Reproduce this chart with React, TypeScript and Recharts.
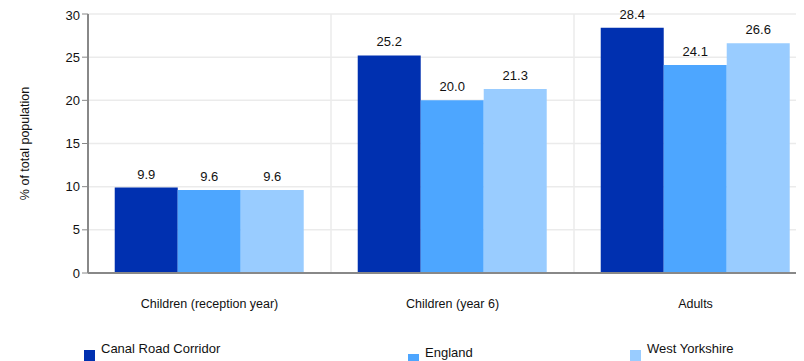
import React from "react";
import {
  BarChart,
  Bar,
  XAxis,
  YAxis,
  CartesianGrid,
  LabelList,
} from "recharts";

const categories = ["Children (reception year)", "Children (year 6)", "Adults"];
const canalRoad = [9.9, 25.2, 28.4];
const england = [9.6, 20.0, 24.1];
const westYorkshire = [9.6, 21.3, 26.6];
const yTicks = [0, 5, 10, 15, 20, 25, 30];

const series = [
  { key: "canal", name: "Canal Road Corridor", color: "#0030B0", values: canalRoad },
  { key: "england", name: "England", color: "#4DA6FF", values: england },
  { key: "wy", name: "West Yorkshire", color: "#99CCFF", values: westYorkshire },
];

const chartData = categories.map((c, i) => {
  const row: Record<string, string | number> = { category: c };
  series.forEach((s) => {
    row[s.key] = s.values[i];
  });
  return row;
});

// legend spots as seen in the picture
const legendPos = [
  { left: 76, top: 333 },
  { left: 400, top: 337 },
  { left: 622, top: 333 },
];

const font = "Arial, 'Liberation Sans', sans-serif";

const App: React.FC = () => {
  return (
    <div
      style={{
        position: "relative",
        width: 796,
        height: 353,
        overflow: "hidden",
        fontFamily: font,
      }}
    >
      <BarChart
        width={812}
        height={360}
        data={chartData}
        margin={{ top: 6, right: 3, left: 0, bottom: 65 }}
        barCategoryGap="11%"
        barGap={0}
      >
        <CartesianGrid
          stroke="#ebebeb"
          strokeWidth={1.5}
          verticalCoordinatesGenerator={({ offset }: any) =>
            categories.map((_, i) => offset.left + (offset.width * i) / categories.length).slice(1)
          }
        />
        <XAxis
          dataKey="category"
          tickLine={false}
          tickMargin={20}
          axisLine={{ stroke: "#888", strokeWidth: 2 }}
          tick={{ fill: "#111", fontSize: 12.5, fontFamily: font }}
          interval={0}
        />
        <YAxis
          width={80}
          domain={[0, 30]}
          ticks={yTicks}
          tickSize={6}
          tickMargin={2}
          axisLine={{ stroke: "#888", strokeWidth: 2 }}
          tickLine={{ stroke: "#888" }}
          tick={{ fill: "#111", fontSize: 13, fontFamily: font }}
          label={{
            value: "% of total population",
            angle: -90,
            position: "insideLeft",
            dx: 12,
            style: { fill: "#111", fontSize: 12.5, fontFamily: font, textAnchor: "middle" },
          }}
        />
        {series.map((s) => (
          <Bar key={s.key} dataKey={s.key} name={s.name} fill={s.color} isAnimationActive={false}>
            <LabelList
              dataKey={s.key}
              position="top"
              offset={9}
              formatter={(v: any) => Number(v).toFixed(1)}
              style={{ fill: "#111", fontSize: 13, fontFamily: font }}
            />
          </Bar>
        ))}
      </BarChart>
      {series.map((s, i) => (
        <div
          key={s.key}
          style={{
            position: "absolute",
            left: legendPos[i].left,
            top: legendPos[i].top,
            display: "flex",
            alignItems: "flex-start",
            fontSize: 13,
            color: "#111",
          }}
        >
          <span
            style={{
              display: "inline-block",
              width: 11,
              height: 12,
              background: s.color,
              marginTop: 9,
              marginRight: 6,
            }}
          />
          <span>{s.name}</span>
        </div>
      ))}
    </div>
  );
};

export default App;
